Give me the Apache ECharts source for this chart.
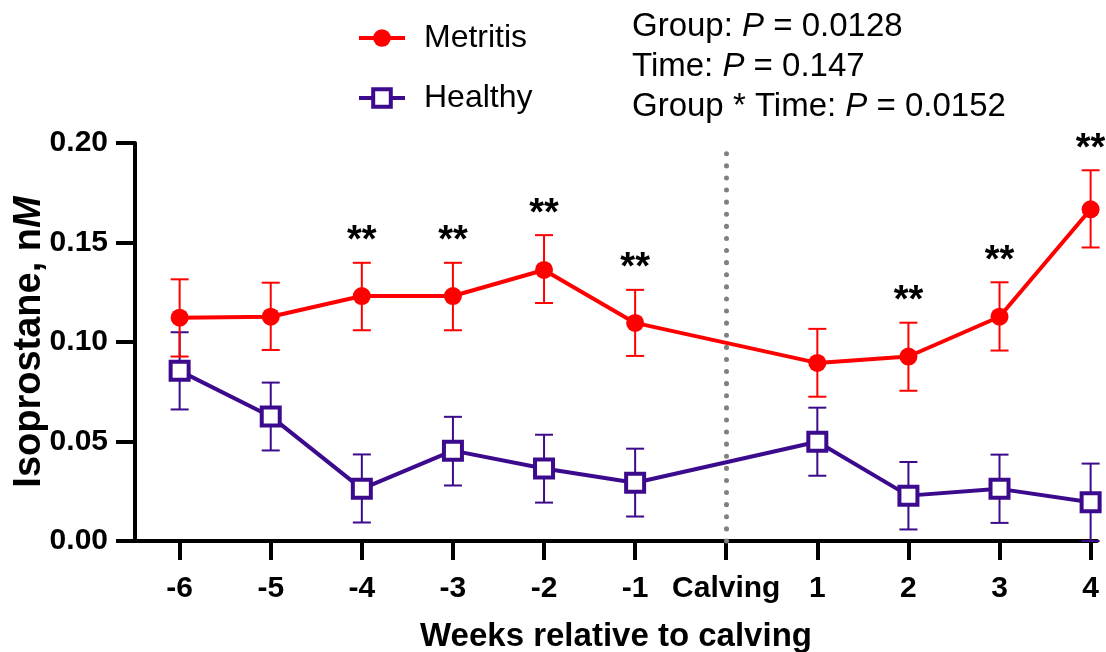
<!DOCTYPE html>
<html><head><meta charset="utf-8">
<script src="https://cdn.jsdelivr.net/npm/echarts@6/dist/echarts.min.js"></script>
<style>html,body{margin:0;padding:0;background:#fff}#c{width:1106px;height:652px}</style>
</head><body><div id="c"></div>
<script>
const categories = ['-6','-5','-4','-3','-2','-1','Calving','1','2','3','4'];
const metritisMean = [0.1122,0.1127,0.1231,0.1231,0.1362,0.1096,null,0.0895,0.0927,0.1127,0.1667];
const metritisLow  = [0.0927,0.0960,0.1059,0.1059,0.1196,0.0930,null,0.0725,0.0755,0.0957,0.1475];
const metritisHigh = [0.1315,0.1298,0.1398,0.1398,0.1537,0.1262,null,0.1066,0.1097,0.1300,0.1863];
const healthyMean  = [0.0855,0.0626,0.0262,0.0454,0.0364,0.0293,null,0.0499,0.0228,0.0262,0.0195];
const healthyLow   = [0.0661,0.0455,0.0093,0.0279,0.0193,0.0123,null,0.0328,0.0058,0.0091,0.0000];
const healthyHigh  = [0.1049,0.0796,0.0435,0.0624,0.0534,0.0464,null,0.0670,0.0397,0.0434,0.0389];
const starIndex = [2,3,4,5,8,9,10];
const calvingIndex = 6;
const statLines = [['Group: ','P',' = 0.0128'],['Time: ','P',' = 0.147'],['Group * Time: ','P',' = 0.0152']];

const RED = '#ff0000', PURPLE = '#3c0a8c';
const FONT = '"Liberation Sans", Arial, sans-serif';

function pts(mean){ const a=[]; mean.forEach((v,i)=>{ if(v!=null) a.push([i,v]); }); return a; }
function bars(lo,hi){ const a=[]; lo.forEach((v,i)=>{ if(v!=null) a.push([i,v,hi[i]]); }); return a; }
function errRender(color){
  return function(params, api){
    const x = api.value(0);
    const p1 = api.coord([x, api.value(1)]);
    const p2 = api.coord([x, api.value(2)]);
    const hw = 9;
    const st = {stroke: color, lineWidth: 2};
    return {type:'group', children:[
      {type:'line', shape:{x1:p1[0],y1:p1[1],x2:p2[0],y2:p2[1]}, style:st},
      {type:'line', shape:{x1:p1[0]-hw,y1:p1[1],x2:p1[0]+hw,y2:p1[1]}, style:st},
      {type:'line', shape:{x1:p2[0]-hw,y1:p2[1],x2:p2[0]+hw,y2:p2[1]}, style:st}
    ]};
  };
}
function starRender(params, api){
  const p = api.coord([api.value(0), api.value(1)]);
  return {type:'text', x:p[0], y:p[1]-21,
    style:{text:'**', fontSize:38, fontWeight:'bold', fontFamily:FONT, fill:'#000', align:'center', verticalAlign:'middle'}};
}
const idx = categories.map((c,i)=>i);

const chart = echarts.init(document.getElementById('c'));
chart.setOption({
  animation:false,
  backgroundColor:'#fff',
  textStyle:{fontFamily:FONT},
  grid:{left:135, right:9, top:143, bottom:111, containLabel:false, outerBoundsMode:'none'},
  legend:{
    orient:'vertical', left:352, top:17, itemWidth:46, itemHeight:22, itemGap:28,
    data:[
      {name:'Metritis', itemStyle:{color:RED}, lineStyle:{color:RED, width:4}},
      {name:'Healthy', itemStyle:{color:'#fff', borderColor:PURPLE, borderWidth:4}, lineStyle:{color:PURPLE, width:4}}
    ],
    textStyle:{fontSize:32, lineHeight:32, color:'#000', fontFamily:FONT, padding:[0,0,0,14]}
  },
  graphic: statLines.map((l,i)=>({
    type:'text', left:632, top:10 + i*40,
    style:{
      text:'{a|'+l[0]+'}{b|'+l[1]+'}{a|'+l[2]+'}',
      rich:{
        a:{fontSize:33, fontFamily:FONT, fill:'#000'},
        b:{fontSize:33, fontFamily:FONT, fontStyle:'italic', fill:'#000'}
      }
    }
  })),
  xAxis:{
    type:'value', min:-0.49, max:10.07,
    name:'Weeks relative to calving', nameLocation:'middle', nameGap:79, nameMoveOverlap:false,
    nameTextStyle:{fontSize:33, fontWeight:'bold', color:'#000', fontFamily:FONT},
    axisLine:{show:true, onZero:false, lineStyle:{color:'#000', width:4}},
    axisTick:{show:true, customValues:idx, length:19, lineStyle:{color:'#000', width:4}},
    axisLabel:{customValues:idx, formatter:v=>categories[v], fontSize:30, fontWeight:'bold', color:'#000', margin:33, fontFamily:FONT},
    splitLine:{show:false}
  },
  yAxis:{
    type:'value', min:0, max:0.2, interval:0.05,
    name:'Isoprostane, n{i|M}', nameLocation:'middle', nameGap:86, nameRotate:90, nameMoveOverlap:false,
    nameTextStyle:{fontSize:38, fontWeight:'bold', color:'#000', fontFamily:FONT,
      rich:{i:{fontSize:38, fontWeight:'bold', fontStyle:'italic', color:'#000', fontFamily:FONT}}},
    axisLine:{show:true, onZero:false, lineStyle:{color:'#000', width:4}},
    axisTick:{show:true, length:19, lineStyle:{color:'#000', width:4}},
    axisLabel:{formatter:v=>v.toFixed(2), fontSize:30, fontWeight:'bold', color:'#000', margin:27, fontFamily:FONT},
    splitLine:{show:false}
  },
  series:[
    {type:'custom', name:'hErr', renderItem:errRender(PURPLE), data:bars(healthyLow,healthyHigh), z:1, silent:true},
    {type:'custom', name:'mErr', renderItem:errRender(RED), data:bars(metritisLow,metritisHigh), z:1, silent:true},
    {type:'line', name:'Healthy', data:pts(healthyMean), z:3,
      symbol:'rect', symbolSize:18, lineStyle:{color:PURPLE, width:4},
      itemStyle:{color:'#fff', borderColor:PURPLE, borderWidth:4},
      markLine:{silent:true, symbol:'none', label:{show:false},
        lineStyle:{color:'#808080', type:[0.1,12], width:5, cap:'round'},
        data:[{xAxis:calvingIndex}]}
    },
    {type:'line', name:'Metritis', data:pts(metritisMean), z:4,
      symbol:'circle', symbolSize:18, lineStyle:{color:RED, width:4},
      itemStyle:{color:RED, borderWidth:0}
    },
    {type:'custom', name:'stars', renderItem:starRender, z:5, silent:true,
      data:starIndex.map(i=>[i, metritisHigh[i]])}
  ]
});
</script></body></html>
